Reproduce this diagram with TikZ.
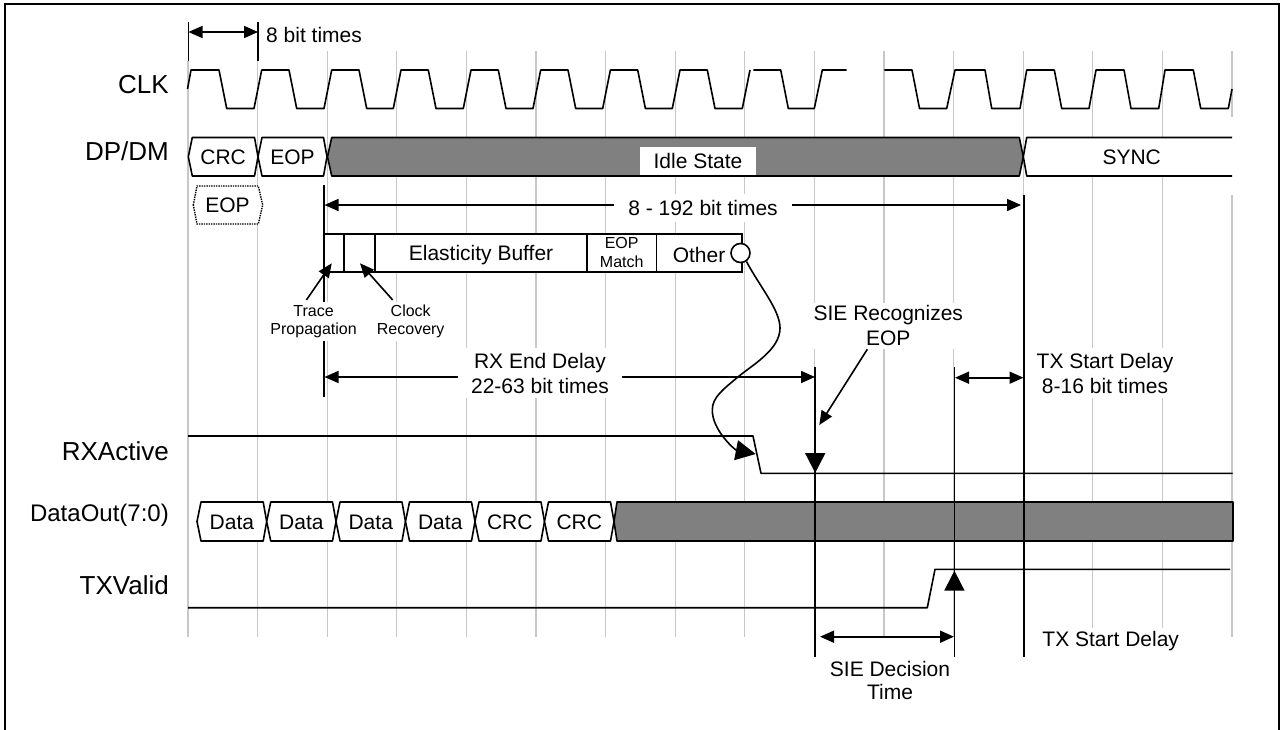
\documentclass[tikz,border=0pt]{standalone}
\usepackage{fontspec}
\setmainfont{Liberation Sans}
\usetikzlibrary{arrows.meta}
\definecolor{gridgray}{HTML}{C8C8C8}
\definecolor{busgray}{HTML}{808080}
\tikzset{
  gridline/.style={draw=gridgray,line width=1.2pt},
  wave/.style={draw=black,line width=1.6pt,line join=round},
  marker/.style={draw=black,line width=1.8pt},
  frameline/.style={draw=black,line width=2pt},
  dim/.style={draw=black,line width=1.6pt,{Triangle[length=14pt,width=12pt]}-{Triangle[length=14pt,width=12pt]}},
  ptr/.style={draw=black,line width=1.6pt,-{Triangle[length=14pt,width=12pt]}},
  bigptr/.style={draw=black,line width=1.8pt,-{Triangle[length=20pt,width=20pt]}},
  lab/.style={font=\fontsize{21}{25}\selectfont,inner sep=0pt,align=center},
  small/.style={font=\fontsize{16}{18.3}\selectfont,inner sep=0pt,align=center},
  sigA/.style={font=\fontsize{26}{30}\selectfont,inner sep=0pt,anchor=east},
  sigB/.style={font=\fontsize{24}{28}\selectfont,inner sep=0pt,anchor=east},
  bus/.style={draw=black,line width=1.6pt,fill=white,line join=round},
  busdark/.style={draw=black,line width=1.6pt,fill=busgray,line join=round},
}
% left tip, right tip, top, bottom, style, name, text
\newcommand{\busseg}[7]{%
  \path[#5] (#1,{(#3+#4)/2}) -- ({#1+4},#3) -- ({#2-3.5},#3) -- (#2,{(#3+#4)/2}) -- ({#2-3.5},#4) -- ({#1+4},#4) -- cycle;
  \node[lab] (#6) at ({(#1+#2)/2},{(#3+#4)/2+0.8}) {#7};
}
\begin{document}
\begin{tikzpicture}[x=1pt,y=-1pt]
\useasboundingbox (0,0) rectangle (1281,730);
\path[fill=white] (0,0) rectangle (1281,730);
% frame
\draw[frameline] (5,730) -- (5,4) -- (1279,4) -- (1279,730);
% grid
\foreach \x in {188,257.6}{\draw[gridline] (\x,61) -- (\x,637);}
\foreach \x in {327.2,396.8,466.4,536,605.6,675.2,744.8,814.4,884,953.6,1023.2,1092.8,1162.4}{\draw[gridline] (\x,51) -- (\x,637);}
\draw[gridline] (1232,51) -- (1232,117);
\draw[gridline] (1232,195) -- (1232,637);
% CLK
\draw[wave] (187.5,89) -- (191,70) -- (219,70) -- (226.7,108.5)
  foreach \r in {254,324,393.3,463.3,533,602.7,672.3}
    { -- (\r,108.5) -- ({\r+7.7},70) -- ({\r+35},70) -- ({\r+42.7},108.5)}
  -- (742.3,108.5) -- (750,70);
\draw[wave] (753.3,70) -- (780.7,70) -- (788.3,108.5) -- (814.3,108.5) -- (822.3,70) -- (846.7,70);
\draw[wave] (884.3,70) -- (912,70) -- (919.5,108.5) -- (946.7,108.5) -- (955,70) -- (985,70) -- (991.7,108.5) -- (1020,108.5) -- (1026.7,70) -- (1054.3,70) -- (1061.7,108.5) -- (1089,108.5) -- (1096,70) -- (1124,70) -- (1131,108.5) -- (1158.7,108.5) -- (1165,70) -- (1193.3,70) -- (1200.7,108.5) -- (1228.3,108.5) -- (1232,89);
% DP/DM bus
\busseg{188.3}{258}{137.5}{176}{bus}{crcA}{CRC}
\busseg{258}{327}{137.5}{176}{bus}{eopA}{EOP}
\path[busdark] (327.5,156.7) -- (331.7,137.5) -- (1019.3,137.5) -- (1023.3,156.7) -- (1019.3,176) -- (331.7,176) -- cycle;
\path[bus] (1232,137.5) -- (1026.7,137.5) -- (1023.3,156.7) -- (1026.7,176) -- (1232,176);
\node[lab] (sync) at (1131.7,157.5) {SYNC};
\node[lab,fill=white,minimum width=116pt,minimum height=28pt] (idle) at (698,161.3) {\raisebox{-1.5pt}{Idle State}};
% EOP dotted
\path[draw=black,line width=1.4pt,densely dotted,fill=white] (193.3,205) -- (197,186) -- (258.3,186) -- (262.7,205) -- (258.3,224) -- (197,224) -- cycle;
\node[lab] (eopB) at (227.5,205.5) {EOP};
% Markers
\coordinate (m8a) at (188.5,22); \coordinate (m8b) at (188.5,61);
\coordinate (n8a) at (258,22); \coordinate (n8b) at (258,61);
\draw[marker] (m8a) -- (m8b);
\draw[marker] (n8a) -- (n8b);
\coordinate (arrA) at (188.5,32); \coordinate (arrB) at (258,32);
\draw[dim] (arrA) -- (arrB);
% vertical markers
\coordinate (vA) at (324,185); \coordinate (vAb) at (324,397);
\coordinate (vB) at (815.2,367); \coordinate (vBb) at (815.2,657);
\coordinate (vC) at (954.4,367); \coordinate (vCb) at (954.4,657);
\coordinate (vD) at (1023.7,195); \coordinate (vDb) at (1023.7,657);
% RXActive
\draw[wave] (188,436) -- (753,436) -- (761,473.3) -- (1232.7,473.3);
% DataOut
\busseg{197}{266.7}{502}{541}{bus}{dA}{Data}
\busseg{266.7}{336}{502}{541}{bus}{dB}{Data}
\busseg{336}{405.5}{502}{541}{bus}{dC}{Data}
\busseg{405.5}{475}{502}{541}{bus}{dD}{Data}
\busseg{475}{544.5}{502}{541}{bus}{dE}{CRC}
\busseg{544.5}{614}{502}{541}{bus}{dF}{CRC}
\path[busdark] (614,521.5) -- (617,502) -- (1233,502) -- (1233,541) -- (617,541) -- cycle;
% TXValid
\draw[wave] (188,607.7) -- (927.3,607.7) -- (935,569.3) -- (1230,569.3);
% vertical lines
\draw[marker] (vA) -- (vAb);
\draw[marker] (vB) -- (vBb);
\draw[marker] (vC) -- (vCb);
\draw[marker] (vD) -- (vDb);
% timing box
\node[draw=black,line width=1.6pt,fill=white,minimum width=418pt,minimum height=38pt,inner sep=0pt] (tbox) at (533,253) {};
\draw[marker] (vA) -- (324,290);
\draw[wave] (344,234) -- (344,272);
\draw[wave] (375,234) -- (375,272);
\draw[wave] (587,234) -- (587,272);
\draw[wave] (656.5,234) -- (656.5,272);
\node[lab] (ebuf) at (481,255.5) {Elasticity Buffer};
\node[small] (ematch) at (621.7,252.5) {EOP\\Match};
\node[lab] (other) at (699,254.5) {Other};
\node[circle,draw=black,line width=1.6pt,fill=white,minimum size=19pt,inner sep=0pt] (circ) at (740.5,253) {};
% curve
\coordinate (cA) at (780,328);
\coordinate (cB) at (736.7,378);
\coordinate (cC) at (712.3,410);
\coordinate (cD) at (755.7,454);
\draw[bigptr,line width=1.6pt] (circ.-55) .. controls (760,287) and (780,310) .. (cA)
  .. controls (780,350) and (752,365) .. (cB)
  .. controls (725,388) and (712,397) .. (cC)
  .. controls (712,430) and (735,450) .. (cD);
% dimension arrows
\coordinate (d8a) at (324.5,205); \coordinate (d8b) at (1021,205);
\draw[dim] (d8a) -- (d8b);
\coordinate (rxa) at (324.5,377); \coordinate (rxb) at (815,377);
\draw[dim] (rxa) -- (rxb);
\coordinate (txa) at (955,377.7); \coordinate (txb) at (1023.5,377.7);
\draw[dim] (txa) -- (txb);
\coordinate (sa) at (820,636.7); \coordinate (sb) at (954,636.7);
\draw[dim] (sa) -- (sb);
% pointers
\coordinate (tpS) at (306.4,300); \coordinate (tpE) at (331.7,263.3);
\draw[ptr] (tpS) -- (tpE);
\coordinate (crS) at (392.7,300); \coordinate (crE) at (360,263.3);
\draw[ptr] (crS) -- (crE);
\coordinate (srS) at (867.3,349.3); \coordinate (srE) at (819.3,425);
\draw[ptr] (srS) -- (srE);
\coordinate (dnS) at (815.2,440); \coordinate (dnE) at (815.2,473);
\draw[bigptr] (dnS) -- (dnE);
\coordinate (upS) at (954.4,610); \coordinate (upE) at (954.4,570.7);
\draw[bigptr] (upS) -- (upE);
% texts
\node[lab,anchor=west] (t8) at (266,35) {8 bit times};
\node[lab,fill=white,minimum width=178pt,minimum height=28pt] (t192) at (703,207.5) {8 - 192 bit times};
\node[small,fill=white,minimum width=94pt,minimum height=39pt] (ttrace) at (313.6,321.5) {Trace\\Propagation};
\node[small,fill=white,minimum width=78pt,minimum height=39pt] (tclock) at (410.7,321.5) {Clock\\Recovery};
\node[lab,fill=white,minimum width=164pt,minimum height=50pt] (trx) at (540,373) {RX End Delay\\22-63 bit times};
\node[lab,fill=white,minimum height=46pt] (tsie) at (888.3,325.5) {SIE Recognizes\\EOP};
\node[lab,fill=white,minimum width=150pt,minimum height=50pt] (ttx) at (1105,373) {TX Start Delay\\8-16 bit times};
\node[lab,fill=white,minimum height=28pt] (ttx2) at (1110.7,641.5) {TX Start Delay};
\node[lab,font=\fontsize{21}{23.5}\selectfont] (tdec) at (890,680.5) {SIE Decision\\Time};
% signal names
\node[sigA] (sclk) at (169,85) {CLK};
\node[sigA] (sdp) at (169,151) {DP/DM};
\node[sigA] (srx) at (169,451) {RXActive};
\node[sigB] (sdo) at (169,515) {DataOut(7:0)};
\node[sigA] (stx) at (169,585) {TXValid};
\end{tikzpicture}
\end{document}
